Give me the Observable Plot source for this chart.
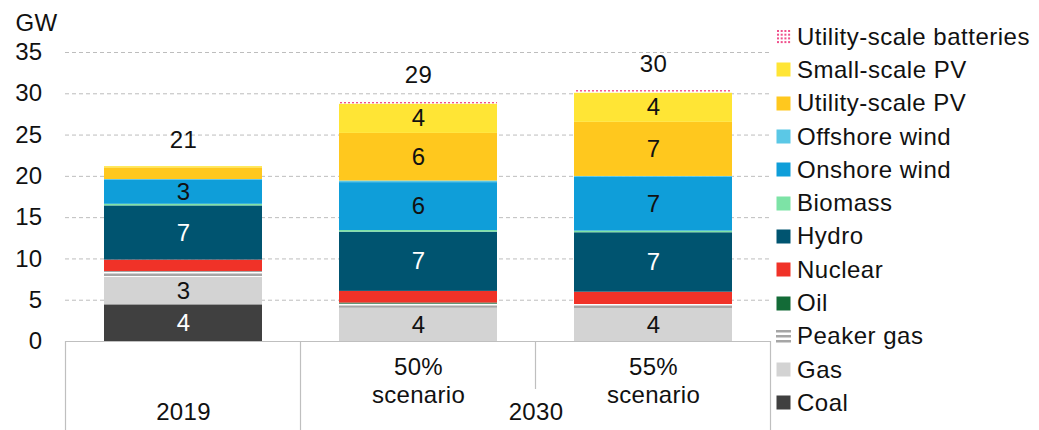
<!DOCTYPE html>
<html><head><meta charset="utf-8">
<script src="https://cdn.jsdelivr.net/npm/d3@7"></script>
<script src="https://cdn.jsdelivr.net/npm/@observablehq/plot@0.6"></script>
<style>
body{margin:0;background:#fff;font-family:"Liberation Sans",Arial,sans-serif;}
#wrap{position:relative;width:1039px;height:430px;overflow:hidden;}
#chart{position:absolute;left:0;top:0;}
#legend{position:absolute;left:776px;top:20px;}
.item{height:33.3px;display:flex;align-items:center;font-size:24px;letter-spacing:0.5px;color:#111;white-space:nowrap;}
.item svg{flex:none;margin-right:6px;}
</style></head><body>
<div id="wrap"><div id="chart"></div><div id="legend"></div></div>
<script>
// ---- data (GW) ----
const categories = ["2019", "50% scenario", "55% scenario"];
const categoryLabels = ["2019", "50%\nscenario", "55%\nscenario"];
const groupLabel = "2030";
const series = ["Coal","Gas","Peaker gas","Oil","Nuclear","Hydro","Biomass","Onshore wind","Offshore wind","Utility-scale PV","Small-scale PV","Utility-scale batteries"];
const coal      = [4.44, 0,    0   ];
const gas       = [3.34, 4.03, 4.0 ];
const peakerGas = [0.7,  0.5,  0.48];
const oil       = [0,    0.13, 0   ];
const nuclear   = [1.38, 1.41, 1.49];
const hydro     = [6.56, 7.17, 7.2 ];
const biomass   = [0.2,  0.2,  0.2 ];
const onshore   = [2.95, 5.8,  6.5 ];
const offshore  = [0.05, 0.2,  0.12];
const utilityPV = [1.4,  5.76, 6.55];
const smallPV   = [0.15, 3.55, 3.55];
const batteries = [0,    0.28, 0.3 ];
const yTicks = [0, 5, 10, 15, 20, 25, 30, 35];
const colors = ["#404040","#d3d3d3","url(#peakerPat)","#136b37","#f03228","#005470","#7de3a6","#0f9ed9","#5bc8e6","#ffc81e","#ffe535","url(#battPat)"];

const valuesBySeries = [coal, gas, peakerGas, oil, nuclear, hydro, biomass, onshore, offshore, utilityPV, smallPV, batteries];
const data = [];
series.forEach((s, i) => categories.forEach((c, j) => data.push({series: s, cat: c, value: valuesBySeries[i][j]})));
const totals = categories.map(c => ({cat: c, total: d3.sum(data.filter(d => d.cat === c), d => d.value)}));
const whiteLabel = new Set(["Coal", "Hydro"]);

// ---- layout ----
const W = 775, H = 430, ML = 65, MR = 5, MT = 52, MB = 89;
const step = (W - ML - MR) / categories.length;
const font = "Liberation Sans, Arial, sans-serif";
const FS = 24;

const stackOpts = {x: "cat", y: "value", z: "series", order: series};
const plot = Plot.plot({
  width: W, height: H, marginLeft: ML, marginRight: MR, marginTop: MT, marginBottom: MB,
  style: {fontFamily: font, fontSize: FS + "px", color: "#111", background: "white", overflow: "visible", letterSpacing: "0.3px"},
  x: {domain: categories, paddingInner: 0.328, paddingOuter: 0.164, axis: null},
  y: {domain: [0, 35], axis: null},
  color: {domain: series, range: colors},
  marks: [
    Plot.gridY(yTicks.filter(d => d > 0), {stroke: "#bdbdbd", strokeOpacity: 1, strokeDasharray: "4,3"}),
    Plot.axisY(yTicks, {tickSize: 0, tickPadding: 23, label: null, fontSize: FS, fill: "#111"}),
    Plot.barY(data, {...stackOpts, fill: "series"}),
    Plot.text(data, Plot.stackY({...stackOpts, text: d => (d.value >= 2.5 && !whiteLabel.has(d.series)) ? String(Math.round(d.value)) : "", fill: "#111", fontSize: FS})),
    Plot.text(data, Plot.stackY({...stackOpts, text: d => (d.value >= 2.5 && whiteLabel.has(d.series)) ? String(Math.round(d.value)) : "", fill: "white", fontSize: FS})),
    Plot.text(totals, {x: "cat", y: "total", text: d => String(Math.round(d.total)), dy: -26, fill: "#111", fontSize: FS}),
    Plot.text(["GW"], {frameAnchor: "top-left", dx: -50, dy: -39, textAnchor: "start", fill: "#111", fontSize: FS}),
    Plot.ruleY([0], {stroke: "#bfbfbf"}),
    Plot.text(categories.slice(0, 1), {x: d => d, text: () => categoryLabels[0], frameAnchor: "bottom", dy: 78, fill: "#111", fontSize: FS}),
    Plot.text(categories.slice(1), {x: d => d, text: d => categoryLabels[categories.indexOf(d)], frameAnchor: "bottom", dy: 61, lineHeight: 1.13, fill: "#111", fontSize: FS}),
    Plot.text([categories[1]], {x: d => d, text: () => groupLabel, frameAnchor: "bottom", dx: step / 2, dy: 78, fill: "#111", fontSize: FS})
  ]
});
document.getElementById("chart").appendChild(plot);

// patterns
const svg = d3.select(plot);
const defs = svg.insert("defs", ":first-child");
const pk = defs.append("pattern").attr("id", "peakerPat").attr("patternUnits", "userSpaceOnUse").attr("width", 8).attr("height", 4);
pk.append("rect").attr("width", 8).attr("height", 4).attr("fill", "white");
pk.append("rect").attr("y", 1.5).attr("width", 8).attr("height", 2.5).attr("fill", "#a6a6a6");
const bt = defs.append("pattern").attr("id", "battPat").attr("patternUnits", "userSpaceOnUse").attr("width", 4).attr("height", 3);
bt.append("rect").attr("width", 4).attr("height", 3).attr("fill", "white");
bt.append("rect").attr("x", 0).attr("y", 0).attr("width", 2).attr("height", 1.5).attr("fill", "#f0508c");

// category box lines (derived from x scale)
const xs = plot.scale("x");
const half = (step - xs.bandwidth) / 2;
const y0 = H - MB;
const bounds = categories.map(c => xs.apply(c) - half);
bounds.push(xs.apply(categories[categories.length - 1]) + xs.bandwidth + half);
bounds.forEach((b, i) => {
  const short = i === 2;
  svg.append("line").attr("x1", b).attr("x2", b).attr("y1", y0).attr("y2", short ? y0 + 48 : H)
    .attr("stroke", "#bfbfbf").attr("stroke-width", 1.2);
});

// legend
const leg = d3.select("#legend");
[...series].reverse().forEach(s => {
  const i = series.indexOf(s);
  const it = leg.append("div").attr("class", "item");
  const sw = it.append("svg").attr("width", 15).attr("height", 15);
  if (s === "Utility-scale batteries") {
    for (let r = 0; r < 4; r++) for (let c = 0; c < 4; c++)
      sw.append("rect").attr("x", 1 + c * 3.7).attr("y", 1 + r * 3.7).attr("width", 2).attr("height", 2).attr("fill", "#f0508c");
  } else if (s === "Peaker gas") {
    for (let r = 0; r < 3; r++)
      sw.append("rect").attr("x", 0).attr("y", 1 + r * 5).attr("width", 15).attr("height", 2.5).attr("fill", "#a6a6a6");
  } else {
    sw.append("rect").attr("x", 0.5).attr("y", 0.5).attr("width", 14).attr("height", 14).attr("fill", colors[i]);
  }
  it.append("span").text(s);
});
</script>
</body></html>
